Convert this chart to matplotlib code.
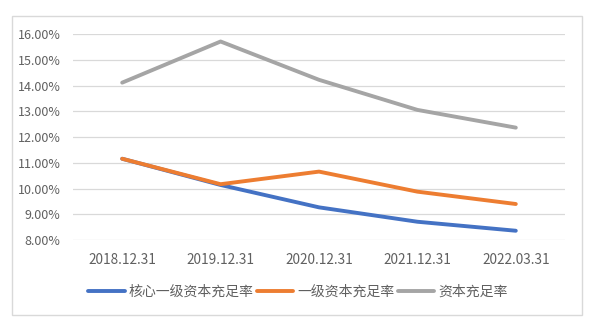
import matplotlib.pyplot as plt
from matplotlib.patches import Rectangle
from matplotlib.ticker import FuncFormatter

plt.rcParams['font.family'] = ['Noto Sans CJK SC', 'DejaVu Sans']

dates = ['2018.12.31', '2019.12.31', '2020.12.31', '2021.12.31', '2022.03.31']
core_tier1 = [11.16, 10.14, 9.27, 8.71, 8.36]
tier1 = [11.16, 10.17, 10.66, 9.88, 9.40]
total_car = [14.12, 15.72, 14.23, 13.06, 12.37]

txt = '#606060'
fig = plt.figure(figsize=(5.96, 3.35), dpi=100)
fig.patches.append(Rectangle((12/596, 1-315/335), 570/596, 299/335,
                             transform=fig.transFigure, fill=False,
                             edgecolor='#d9d9d9', lw=1))
ax = fig.add_axes([73/596, 1-240/335, 492/596, 205.7/335])

x = range(len(dates))
ax.plot(x, core_tier1, color='#4472C4', lw=2.8, label='核心一级资本充足率', solid_capstyle='round')
ax.plot(x, tier1, color='#ED7D31', lw=2.8, label='一级资本充足率', solid_capstyle='round')
ax.plot(x, total_car, color='#A5A5A5', lw=2.8, label='资本充足率', solid_capstyle='round')

ax.set_xlim(-0.5, 4.5)
ax.set_ylim(8, 16)
ax.set_yticks(range(8, 17))
ax.yaxis.set_major_formatter(FuncFormatter(lambda v, p: f'{v:.2f}%'))
ax.set_xticks(list(x))
ax.set_xticklabels(dates)
ax.grid(axis='y', color='#d9d9d9', lw=0.9)
ax.set_axisbelow(True)
for s in ax.spines.values():
    s.set_visible(False)
ax.tick_params(length=0, colors=txt, labelsize=9)
ax.tick_params(axis='x', pad=9, labelsize=9.8)
ax.tick_params(axis='y', pad=9)

fig.legend(loc='center', bbox_to_anchor=(0.5, 1-292/335), ncol=3, frameon=False,
           fontsize=10, handlelength=2.6, handletextpad=0.3, columnspacing=0.25,
           labelcolor=txt)

fig.savefig('out.png', dpi=100)
